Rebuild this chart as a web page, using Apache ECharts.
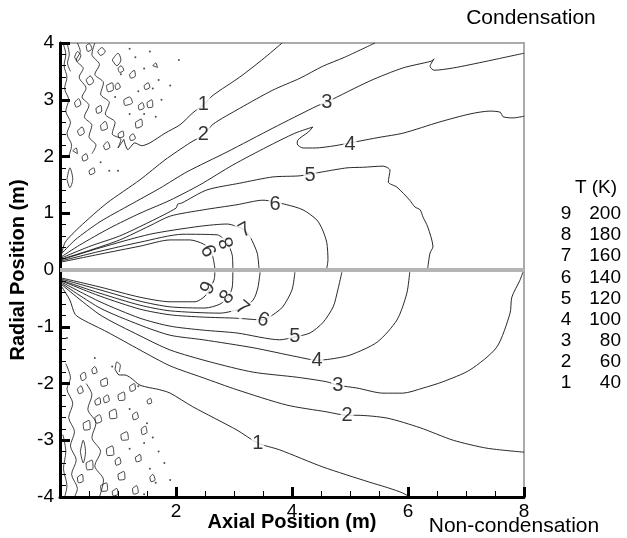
<!DOCTYPE html>
<html>
<head>
<meta charset="utf-8">
<script src="https://cdn.jsdelivr.net/npm/echarts@6/dist/echarts.min.js"></script>
<style>
  html, body { margin: 0; background: #fff; }
  #main { width: 627px; height: 538px; }
</style>
</head>
<body>
<div id="main"></div>
<script>
// contour levels (legend table)
const levelIds = ['9', '8', '7', '6', '5', '4', '3', '2', '1'];
const levelTemps = ['200', '180', '160', '140', '120', '100', '80', '60', '40'];

// upper half (condensation) contour lines, [axial, radial] in m
const c1Up = [[1.10, 2.30], [1.17, 2.12], [1.29, 2.24], [1.41, 2.19], [1.55, 2.24], [1.81, 2.41], [2.07, 2.56], [2.29, 2.77], [2.47, 2.91], [2.64, 3.08], [3.10, 3.40], [3.48, 3.70], [3.83, 4.0]];
const c2Up = [[0.02, 0.25], [0.09, 0.49], [0.34, 0.76], [0.81, 1.18], [1.38, 1.59], [1.81, 1.94], [2.24, 2.24], [2.47, 2.38], [2.64, 2.57], [3.10, 2.85], [3.67, 3.17], [4.14, 3.38], [4.53, 3.59], [4.91, 3.75], [5.43, 4.0]];
const c3Up = [[0.02, 0.28], [0.26, 0.53], [0.69, 0.85], [1.21, 1.15], [1.72, 1.44], [2.19, 1.73], [2.88, 2.08], [3.67, 2.50], [4.43, 2.89], [4.60, 2.96], [5.34, 3.33], [5.91, 3.56], [6.40, 3.68], [6.45, 3.72], [6.38, 3.59], [6.45, 3.52], [6.78, 3.56], [7.36, 3.68], [8.0, 3.82]];
const c4Up = [[0.02, 0.23], [0.34, 0.44], [0.86, 0.74], [1.38, 1.0], [1.90, 1.23], [2.41, 1.50], [2.98, 1.85], [3.57, 2.17], [4.05, 2.41], [4.36, 2.52], [4.28, 2.43], [4.10, 2.29], [4.09, 2.22], [4.19, 2.15], [4.40, 2.15], [4.74, 2.19], [5.0, 2.24], [5.52, 2.34], [5.91, 2.41], [6.55, 2.61], [7.07, 2.75], [7.41, 2.80], [7.59, 2.78], [7.64, 2.70], [7.81, 2.68], [8.0, 2.71]];
const c5Up = [[0.02, 0.21], [0.52, 0.42], [1.03, 0.60], [1.55, 0.85], [2.0, 1.09], [2.03, 1.16], [2.10, 1.18], [2.53, 1.41], [3.10, 1.53], [3.67, 1.64], [4.14, 1.66], [4.53, 1.73], [4.95, 1.80], [5.22, 1.81], [5.57, 1.83], [5.69, 1.76], [5.66, 1.55], [5.81, 1.46], [6.03, 1.23], [6.12, 1.11], [6.21, 1.06], [6.26, 0.93], [6.34, 0.76], [6.43, 0.41], [6.38, 0.30], [6.34, 0.03]];
const c6Up = [[0.02, 0.19], [0.52, 0.35], [1.03, 0.53], [1.55, 0.78], [1.90, 0.95], [2.47, 1.06], [3.05, 1.15], [3.50, 1.23], [3.91, 1.15], [4.19, 1.06], [4.43, 0.88], [4.53, 0.70], [4.60, 0.48], [4.62, 0.18], [4.60, 0.03]];
const c7Up = [[0.02, 0.18], [0.69, 0.39], [1.55, 0.63], [2.41, 0.77], [2.88, 0.81], [3.19, 0.70], [3.28, 0.58], [3.40, 0.30], [3.43, 0.03]];
const c8Up = [[0.02, 0.16], [0.69, 0.33], [1.38, 0.49], [2.12, 0.63], [2.71, 0.62], [2.88, 0.48], [2.97, 0.26], [2.98, 0.03]];
const c9Up = [[0.02, 0.14], [0.69, 0.28], [1.38, 0.42], [1.90, 0.53], [2.24, 0.53], [2.47, 0.46], [2.59, 0.35], [2.64, 0.21], [2.67, 0.03]];

// lower half (non-condensation) contour lines
const c1Lo = [[0.95, -1.75], [1.02, -1.85], [1.12, -1.85], [1.22, -1.90], [1.38, -2.03], [1.72, -2.11], [1.90, -2.17], [2.29, -2.41], [3.05, -2.82], [3.41, -3.05], [3.79, -3.17], [4.53, -3.47], [5.34, -3.74], [5.60, -3.82], [5.78, -3.88], [5.91, -3.93], [6.0, -3.98]];
const c2Lo = [[0.02, -0.28], [0.17, -0.53], [0.26, -0.78], [0.40, -0.88], [0.81, -1.09], [1.38, -1.41], [1.90, -1.69], [2.47, -1.90], [3.05, -2.11], [3.91, -2.38], [4.60, -2.50], [4.95, -2.56], [5.12, -2.56], [5.64, -2.61], [6.21, -2.78], [6.78, -3.0], [7.36, -3.14], [8.0, -3.21]];
const c3Lo = [[0.02, -0.25], [0.69, -0.79], [1.38, -1.16], [1.90, -1.41], [2.59, -1.62], [3.33, -1.80], [4.09, -1.89], [4.60, -1.97], [4.79, -2.03], [5.12, -2.08], [5.57, -2.17], [5.91, -2.17], [6.26, -2.08], [6.60, -1.97], [7.07, -1.76], [7.53, -1.36], [7.76, -0.76], [7.79, -0.48], [7.93, -0.18], [7.98, -0.04]];
const c4Lo = [[0.02, -0.23], [0.69, -0.67], [1.38, -0.97], [1.90, -1.15], [2.47, -1.23], [3.33, -1.37], [4.09, -1.53], [4.43, -1.59], [4.66, -1.57], [5.0, -1.50], [5.47, -1.27], [5.81, -0.88], [5.98, -0.41], [6.03, -0.04]];
const c5Lo = [[0.02, -0.21], [0.69, -0.56], [1.38, -0.85], [1.90, -0.99], [2.47, -1.06], [3.05, -1.11], [3.79, -1.23], [4.05, -1.18], [4.31, -1.11], [4.53, -0.93], [4.71, -0.65], [4.79, -0.35], [4.86, -0.04]];
const c6Lo = [[0.02, -0.19], [0.69, -0.46], [1.38, -0.69], [1.90, -0.79], [2.47, -0.83], [3.05, -0.85], [3.50, -0.88], [3.67, -0.79], [3.84, -0.65], [4.0, -0.35], [4.05, -0.04]];
const c7Lo = [[0.02, -0.18], [0.69, -0.41], [1.38, -0.62], [1.90, -0.72], [2.76, -0.76], [3.14, -0.67], [3.33, -0.53], [3.41, -0.32], [3.45, -0.04]];
const c8Lo = [[0.02, -0.16], [0.69, -0.35], [1.38, -0.55], [1.90, -0.65], [2.50, -0.67], [2.76, -0.60], [2.91, -0.46], [2.97, -0.30], [2.98, -0.04]];
const c9Lo = [[0.02, -0.14], [0.69, -0.30], [1.38, -0.48], [1.90, -0.56], [2.33, -0.56], [2.50, -0.46], [2.60, -0.30], [2.66, -0.16], [2.67, -0.04]];

// contour labels
const labelText = ['1', '2', '3', '4', '5', '6', '7', '8', '9', '9', '8', '7', '6', '5', '4', '3', '2', '1'];
const labelPos = [[2.47, 2.91], [2.47, 2.38], [4.60, 2.96], [5.0, 2.22], [4.31, 1.66], [3.71, 1.15], [3.19, 0.70], [2.88, 0.48], [2.59, 0.35],
                  [2.55, -0.32], [2.88, -0.48], [3.14, -0.67], [3.50, -0.88], [4.05, -1.18], [4.43, -1.59], [4.79, -2.03], [4.95, -2.56], [3.41, -3.05]];
const labelRot = [0, 0, 0, 0, 0, 0, 30, 110, 115, 60, 50, -40, -20, 0, 0, 0, 0, 0];

// noisy small contours near the wall (upper)
const noiseUp = [
  [[0.05, 4.0], [0.1, 3.8], [0.07, 3.6], [0.12, 3.4], [0.08, 3.2], [0.15, 3.0], [0.1, 2.8], [0.18, 2.6], [0.12, 2.4], [0.2, 2.2], [0.15, 2.0]],
  [[0.12, 4.0], [0.16, 3.8], [0.13, 3.65], [0.18, 3.5]],
  [[0.3, 4.0], [0.35, 3.85], [0.28, 3.7], [0.4, 3.55], [0.33, 3.4], [0.45, 3.2], [0.38, 3.05], [0.5, 2.9], [0.42, 2.7], [0.55, 2.55], [0.5, 2.35], [0.62, 2.2], [0.55, 2.05]],
  [[0.6, 4.0], [0.55, 3.8], [0.68, 3.62], [0.6, 3.45], [0.75, 3.3], [0.7, 3.1], [0.85, 2.95], [0.78, 2.75], [0.95, 2.6], [0.9, 2.4], [1.05, 2.3], [1.0, 2.15], [1.1, 2.3]],
  [[0.9, 3.7], [1.0, 3.82], [1.05, 3.7], [0.98, 3.6], [0.9, 3.7]],
  [[1.2, 3.45], [1.28, 3.52], [1.3, 3.42], [1.22, 3.38], [1.2, 3.45]],
  [[0.8, 3.25], [0.9, 3.3], [0.92, 3.18], [0.83, 3.14], [0.8, 3.25]],
  [[1.1, 3.0], [1.2, 3.05], [1.25, 2.95], [1.12, 2.9], [1.1, 3.0]],
  [[1.5, 2.95], [1.58, 3.0], [1.6, 2.88], [1.52, 2.86], [1.5, 2.95]],
  [[0.7, 2.55], [0.78, 2.62], [0.82, 2.5], [0.72, 2.46], [0.7, 2.55]],
  [[1.3, 2.6], [1.4, 2.66], [1.42, 2.55], [1.32, 2.5], [1.3, 2.6]],
  [[1.0, 2.4], [1.08, 2.45], [1.1, 2.36], [1.02, 2.33], [1.0, 2.4]],
  [[0.5, 1.75], [0.58, 1.8], [0.6, 1.72], [0.52, 1.68], [0.5, 1.75]],
  [[0.12, 1.6], [0.17, 1.8], [0.22, 1.6], [0.17, 1.45], [0.12, 1.6]],
  [[0.45, 3.95], [0.5, 3.99], [0.55, 3.9], [0.48, 3.85], [0.45, 3.95]],
  [[1.6, 3.6], [1.65, 3.65], [1.68, 3.57], [1.6, 3.6]],
  [[0.22, 2.1], [0.28, 2.15], [0.3, 2.05], [0.22, 2.1]],
  [[0.25, 3.75], [0.3, 3.85], [0.36, 3.78], [0.3, 3.68], [0.25, 3.75]],
  [[0.65, 3.85], [0.72, 3.92], [0.78, 3.85], [0.7, 3.78], [0.65, 3.85]],
  [[1.0, 3.55], [1.05, 3.6], [1.1, 3.52], [1.03, 3.48], [1.0, 3.55]],
  [[0.45, 3.35], [0.52, 3.42], [0.58, 3.32], [0.5, 3.26], [0.45, 3.35]],
  [[0.95, 3.25], [1.0, 3.3], [1.04, 3.22], [0.97, 3.18], [0.95, 3.25]],
  [[0.25, 2.95], [0.32, 3.02], [0.36, 2.92], [0.28, 2.87], [0.25, 2.95]],
  [[0.62, 2.85], [0.7, 2.9], [0.72, 2.8], [0.64, 2.76], [0.62, 2.85]],
  [[1.35, 2.9], [1.42, 2.95], [1.45, 2.86], [1.37, 2.82], [1.35, 2.9]],
  [[0.3, 2.45], [0.38, 2.52], [0.42, 2.42], [0.34, 2.37], [0.3, 2.45]],
  [[0.75, 2.2], [0.82, 2.26], [0.86, 2.16], [0.78, 2.12], [0.75, 2.2]],
  [[1.2, 2.35], [1.26, 2.4], [1.3, 2.32], [1.22, 2.28], [1.2, 2.35]],
  [[0.38, 2.0], [0.45, 2.05], [0.48, 1.96], [0.4, 1.92], [0.38, 2.0]],
  [[1.45, 3.25], [1.52, 3.3], [1.55, 3.22], [1.47, 3.18], [1.45, 3.25]]
];
const dotsUp = [[1.3, 3.75], [1.45, 3.55], [1.7, 3.35], [1.6, 3.2], [1.35, 3.15], [1.75, 3.0], [1.45, 2.75], [1.2, 2.75], [1.05, 3.45],
                [1.2, 3.9], [1.9, 3.25], [1.0, 1.75], [0.85, 1.75], [1.55, 3.85], [0.95, 3.05], [1.65, 2.7], [2.05, 3.7], [0.7, 1.9]];

// noisy small contours near the wall (lower)
const noiseLo = [
  [[0.1, -1.65], [0.18, -1.9], [0.12, -2.1], [0.22, -2.35], [0.15, -2.6], [0.25, -2.85], [0.18, -3.1], [0.28, -3.35], [0.2, -3.6], [0.3, -3.85], [0.25, -4.0]],
  [[0.45, -2.0], [0.55, -2.2], [0.48, -2.45], [0.62, -2.7], [0.55, -2.95], [0.7, -3.2], [0.6, -3.45], [0.75, -3.7], [0.68, -4.0]],
  [[0.05, -2.9], [0.1, -3.2], [0.06, -3.5], [0.12, -3.8], [0.08, -4.0]],
  [[0.35, -1.85], [0.42, -1.8], [0.45, -1.9], [0.38, -1.95], [0.35, -1.85]],
  [[0.7, -1.95], [0.8, -1.9], [0.82, -2.02], [0.72, -2.05], [0.7, -1.95]],
  [[1.0, -2.2], [1.1, -2.15], [1.12, -2.28], [1.02, -2.3], [1.0, -2.2]],
  [[0.85, -2.5], [0.95, -2.45], [0.98, -2.6], [0.87, -2.62], [0.85, -2.5]],
  [[1.25, -2.55], [1.32, -2.5], [1.35, -2.6], [1.27, -2.64], [1.25, -2.55]],
  [[0.4, -2.7], [0.5, -2.65], [0.52, -2.8], [0.42, -2.82], [0.4, -2.7]],
  [[1.05, -2.9], [1.15, -2.85], [1.18, -2.98], [1.07, -3.0], [1.05, -2.9]],
  [[0.8, -3.15], [0.9, -3.1], [0.93, -3.25], [0.82, -3.27], [0.8, -3.15]],
  [[1.3, -3.3], [1.38, -3.25], [1.4, -3.35], [1.32, -3.38], [1.3, -3.3]],
  [[0.45, -3.4], [0.55, -3.35], [0.57, -3.5], [0.47, -3.52], [0.45, -3.4]],
  [[1.0, -3.6], [1.1, -3.55], [1.12, -3.68], [1.02, -3.7], [1.0, -3.6]],
  [[0.7, -3.8], [0.8, -3.75], [0.82, -3.88], [0.72, -3.9], [0.7, -3.8]],
  [[1.25, -3.85], [1.32, -3.8], [1.35, -3.92], [1.27, -3.95], [1.25, -3.85]],
  [[0.35, -3.2], [0.4, -3.0], [0.44, -3.2], [0.4, -3.4], [0.35, -3.2]],
  [[1.5, -2.3], [1.56, -2.26], [1.58, -2.34], [1.52, -2.36], [1.5, -2.3]],
  [[0.6, -2.3], [0.68, -2.25], [0.7, -2.35], [0.62, -2.38], [0.6, -2.3]],
  [[0.95, -1.75], [0.98, -1.62], [1.04, -1.68], [1.02, -1.8]],
  [[0.3, -2.1], [0.36, -2.04], [0.4, -2.14], [0.33, -2.18], [0.3, -2.1]],
  [[0.75, -2.25], [0.82, -2.2], [0.85, -2.3], [0.77, -2.34], [0.75, -2.25]],
  [[1.2, -2.05], [1.28, -2.0], [1.3, -2.1], [1.22, -2.14], [1.2, -2.05]],
  [[0.6, -2.6], [0.68, -2.55], [0.72, -2.66], [0.63, -2.7], [0.6, -2.6]],
  [[1.4, -2.8], [1.47, -2.75], [1.5, -2.86], [1.42, -2.9], [1.4, -2.8]],
  [[0.95, -3.35], [1.02, -3.3], [1.05, -3.4], [0.97, -3.44], [0.95, -3.35]],
  [[0.3, -3.65], [0.38, -3.6], [0.4, -3.72], [0.32, -3.75], [0.3, -3.65]],
  [[0.9, -3.9], [0.98, -3.85], [1.0, -3.95], [0.92, -3.98], [0.9, -3.9]],
  [[1.55, -3.65], [1.6, -3.6], [1.64, -3.7], [1.57, -3.73], [1.55, -3.65]],
  [[0.55, -1.75], [0.6, -1.7], [0.64, -1.8], [0.57, -1.83], [0.55, -1.75]]
];
const dotsLo = [[1.5, -2.7], [1.6, -2.95], [1.45, -3.05], [1.7, -3.2], [1.55, -3.5], [1.8, -3.4], [1.65, -3.75], [1.45, -3.95],
                [1.9, -3.7], [1.2, -3.15], [1.35, -2.05], [0.9, -1.7], [0.6, -1.55], [1.2, -2.45], [0.12, -1.2]];

const contours = [c1Up, c2Up, c3Up, c4Up, c5Up, c6Up, c7Up, c8Up, c9Up, c1Lo, c2Lo, c3Lo, c4Lo, c5Lo, c6Lo, c7Lo, c8Lo, c9Lo];

const FONT = 'Liberation Sans, Arial, sans-serif';
const chart = echarts.init(document.getElementById('main'));

const series = [];
contours.forEach(function (pts) {
  series.push({
    type: 'line', data: pts, showSymbol: false, smooth: 0.25, animation: false,
    lineStyle: { color: '#111', width: 0.9 }, z: 3
  });
});
noiseUp.concat(noiseLo).forEach(function (pts) {
  series.push({
    type: 'line', data: pts, showSymbol: false, smooth: 0.3, animation: false,
    lineStyle: { color: '#111', width: 0.8 }, z: 3
  });
});
series.push({
  type: 'scatter', data: dotsUp.concat(dotsLo), symbolSize: 2, animation: false,
  itemStyle: { color: '#222' }, z: 3
});
// symmetry axis
series.push({
  type: 'line', data: [], animation: false,
  markLine: {
    silent: true, symbol: 'none', label: { show: false },
    lineStyle: { color: '#b4b4b4', width: 4, type: 'solid' },
    data: [{ yAxis: 0 }]
  }, z: 4
});
// contour labels
series.push({
  type: 'scatter', symbolSize: 1, animation: false, z: 6,
  itemStyle: { color: 'rgba(0,0,0,0)' },
  data: labelPos.map(function (p, i) {
    return {
      value: p,
      label: {
        show: true, formatter: labelText[i], rotate: labelRot[i], position: 'inside',
        fontFamily: FONT, fontSize: 20, color: '#000', backgroundColor: '#fff', padding: [0, 1]
      }
    };
  })
});

const graphics = [
  { type: 'text', x: 531, y: 18, style: { text: 'Condensation', font: '21px ' + FONT, fill: '#000', align: 'center', verticalAlign: 'middle' } },
  { type: 'text', x: 514, y: 526, style: { text: 'Non-condensation', font: '21px ' + FONT, fill: '#000', align: 'center', verticalAlign: 'middle' } },
  { type: 'text', x: 596, y: 188, style: { text: 'T (K)', font: '19px ' + FONT, fill: '#000', align: 'center', verticalAlign: 'middle' } }
];
levelIds.forEach(function (id, i) {
  graphics.push({ type: 'text', x: 566, y: 214 + i * 21.1, style: { text: id, font: '19px ' + FONT, fill: '#000', align: 'center', verticalAlign: 'middle' } });
  graphics.push({ type: 'text', x: 621, y: 214 + i * 21.1, style: { text: levelTemps[i], font: '19px ' + FONT, fill: '#000', align: 'right', verticalAlign: 'middle' } });
});

chart.setOption({
  animation: false,
  grid: { left: 60, right: 103, top: 43, bottom: 41, show: true, borderColor: '#aaa', borderWidth: 2, containLabel: false, outerBoundsMode: 'none' },
  xAxis: {
    type: 'value', min: 0, max: 8, interval: 2,
    name: 'Axial Position (m)', nameLocation: 'middle', nameGap: 15, nameMoveOverlap: false,
    nameTextStyle: { fontFamily: FONT, fontSize: 20, fontWeight: 'bold', color: '#000' },
    axisLine: { onZero: false, lineStyle: { color: '#000', width: 3 } },
    axisTick: { inside: true, length: 10, lineStyle: { color: '#000', width: 3 } },
    minorTick: { show: true, splitNumber: 4, length: 6, lineStyle: { color: '#000', width: 1 } },
    splitLine: { show: false },
    axisLabel: { fontFamily: FONT, fontSize: 19, color: '#000', margin: 5, formatter: function (v) { return v === 0 ? '' : v; } }
  },
  yAxis: {
    type: 'value', min: -4, max: 4, interval: 1,
    name: 'Radial Position (m)', nameLocation: 'middle', nameGap: 32, nameMoveOverlap: false,
    nameTextStyle: { fontFamily: FONT, fontSize: 20, fontWeight: 'bold', color: '#000' },
    axisLine: { onZero: false, lineStyle: { color: '#000', width: 3 } },
    axisTick: { inside: true, length: 10, lineStyle: { color: '#000', width: 3 } },
    minorTick: { show: true, splitNumber: 5, length: 6, lineStyle: { color: '#000', width: 1 } },
    splitLine: { show: false },
    axisLabel: { fontFamily: FONT, fontSize: 19, color: '#000', margin: 6 }
  },
  graphic: graphics,
  series: series
});
</script>
</body>
</html>
